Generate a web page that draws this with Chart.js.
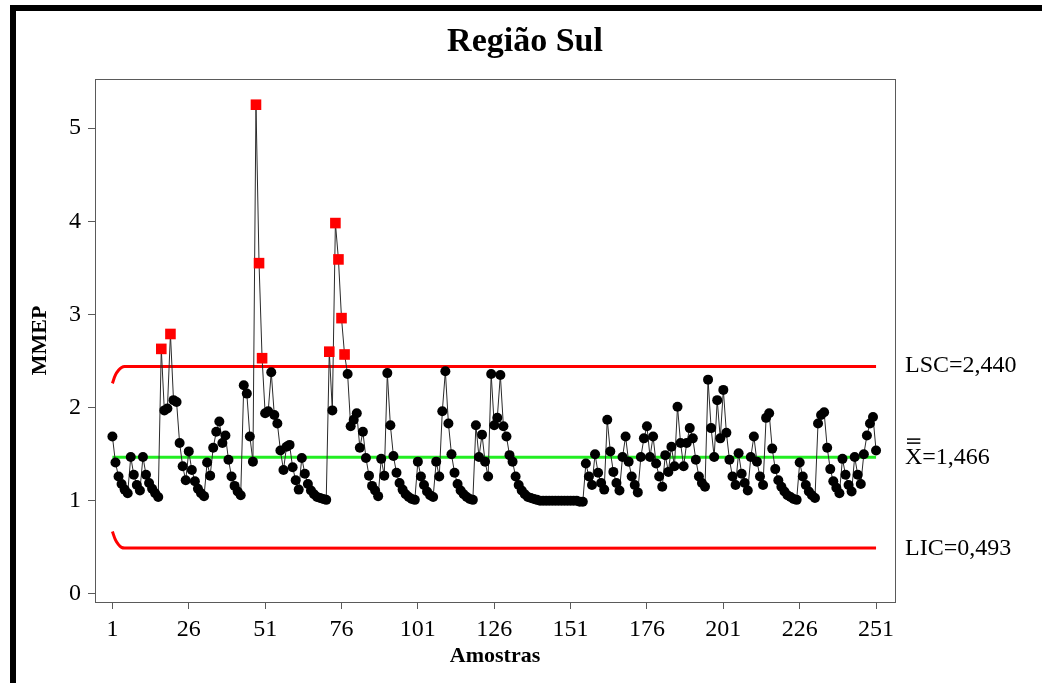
<!DOCTYPE html>
<html>
<head>
<meta charset="utf-8">
<title>Região Sul</title>
<script src="https://cdn.jsdelivr.net/npm/chart.js@4.4.1/dist/chart.umd.min.js"></script>
<style>
  body { margin: 0; background: #fff; }
  #wrap { position: relative; width: 1042px; height: 683px; overflow: hidden; }
  #chart { position: absolute; left: 0; top: 0; }
  .edge { position: absolute; background: #000; }
</style>
</head>
<body>
<div id="wrap">
  <canvas id="chart" width="1042" height="683"></canvas>
  <div class="edge" style="left:10px;top:5px;width:1032px;height:6px"></div>
  <div class="edge" style="left:10px;top:5px;width:6px;height:678px"></div>
</div>
<script>
const chartTitle = "Região Sul";
const xTitle = "Amostras";
const yTitle = "MMEP";

// MMEP value of each sample (amostra 1 .. 251)
const mmep = [
  1.69, 1.41, 1.26, 1.18, 1.12, 1.08, 1.47, 1.28, 1.17, 1.11,
  1.47, 1.28, 1.19, 1.13, 1.08, 1.04, 2.63, 1.97, 1.99, 2.79,
  2.08, 2.06, 1.62, 1.37, 1.22, 1.53, 1.33, 1.21, 1.13, 1.08,
  1.05, 1.41, 1.27, 1.57, 1.74, 1.85, 1.62, 1.70, 1.44, 1.26,
  1.16, 1.10, 1.06, 2.24, 2.15, 1.69, 1.42, 5.25, 3.55, 2.53,
  1.94, 1.96, 2.38, 1.92, 1.83, 1.54, 1.33, 1.58, 1.60, 1.36,
  1.22, 1.12, 1.46, 1.29, 1.18, 1.11, 1.07, 1.04, 1.03, 1.02,
  1.01, 2.60, 1.97, 3.98, 3.59, 2.96, 2.57, 2.36, 1.80, 1.87,
  1.94, 1.57, 1.74, 1.46, 1.27, 1.16, 1.11, 1.05, 1.45, 1.27,
  2.37, 1.81, 1.48, 1.30, 1.19, 1.12, 1.07, 1.04, 1.02, 1.01,
  1.42, 1.26, 1.17, 1.10, 1.06, 1.04, 1.42, 1.26, 1.96, 2.39,
  1.83, 1.50, 1.30, 1.18, 1.11, 1.07, 1.04, 1.02, 1.01, 1.81,
  1.47, 1.71, 1.42, 1.26, 2.36, 1.81, 1.89, 2.35, 1.80, 1.69,
  1.49, 1.42, 1.26, 1.17, 1.11, 1.07, 1.04, 1.03, 1.02, 1.01,
  1.00, 1.00, 1.00, 1.00, 1.00, 1.00, 1.00, 1.00, 1.00, 1.00,
  1.00, 1.00, 1.00, 0.99, 0.99,
  1.40, 1.26, 1.17, 1.50, 1.30, 1.19, 1.12, 1.87, 1.53, 1.31,
  1.19, 1.11, 1.47, 1.69, 1.42, 1.26, 1.17, 1.09, 1.47, 1.67,
  1.80, 1.47, 1.69, 1.40, 1.26, 1.15, 1.49, 1.31, 1.58, 1.37,
  2.01, 1.62, 1.37, 1.62, 1.78, 1.67, 1.44, 1.26, 1.19, 1.15,
  2.30, 1.78, 1.47, 2.08, 1.67, 2.19, 1.73, 1.44, 1.26, 1.17,
  1.51, 1.29, 1.19, 1.11, 1.47, 1.69, 1.42, 1.26, 1.17, 1.89,
  1.94, 1.56, 1.34, 1.22, 1.15, 1.10, 1.06, 1.04, 1.02, 1.01,
  1.41, 1.26, 1.17, 1.10, 1.06, 1.03, 1.83, 1.92, 1.95, 1.57,
  1.34, 1.21, 1.14, 1.08, 1.45, 1.28, 1.17, 1.10, 1.47, 1.28,
  1.18, 1.50, 1.70, 1.83, 1.90, 1.54
];

// control limits
const lscValue = 2.440;
const centerValue = 1.466;
const licValue = 0.493;
// the limits widen over the first samples before they settle
const lscStart = [2.26, 2.35, 2.40, 2.43];
const licStart = [0.67, 0.58, 0.53, 0.50];

const xTicks = [1, 26, 51, 76, 101, 126, 151, 176, 201, 226, 251];
const yTicks = [0, 1, 2, 3, 4, 5];

const lastSample = mmep.length;

function limitPoints(start, level) {
  const pts = start.map((v, i) => ({ x: i + 1, y: v }));
  pts.push({ x: start.length + 1, y: level });
  pts.push({ x: lastSample, y: level });
  return pts;
}

function limitAt(start, level, i) {
  return i < start.length ? start[i] : level;
}

function fmt(v) {
  return v.toFixed(3).replace(".", ",");
}

const decor = {
  id: "decor",
  afterDraw(chart) {
    const { ctx, chartArea: a } = chart;
    const y = chart.scales.y;
    ctx.save();
    ctx.strokeStyle = "#5a5a5a";
    ctx.lineWidth = 1;
    ctx.strokeRect(a.left + 0.5, a.top + 0.5, a.right - a.left, a.bottom - a.top);

    ctx.fillStyle = "#000";
    ctx.textBaseline = "middle";
    ctx.textAlign = "center";
    ctx.font = "bold 34px 'Liberation Serif'";
    ctx.fillText(chartTitle, 525, 42);

    ctx.textAlign = "left";
    ctx.font = "24px 'Liberation Serif'";
    const lx = a.right + 10;
    ctx.fillText("LSC=" + fmt(lscValue), lx, y.getPixelForValue(lscValue) - 1);
    ctx.fillText("LIC=" + fmt(licValue), lx, y.getPixelForValue(licValue) + 1);
    const cy = y.getPixelForValue(centerValue);
    ctx.fillText("X=" + fmt(centerValue), lx, cy);
    const xw = ctx.measureText("X").width;
    ctx.fillRect(lx + 2, cy - 19, xw - 4, 1.5);
    ctx.fillRect(lx + 2, cy - 15, xw - 4, 1.5);
    ctx.restore();
  }
};

function drawChart() {
  const points = mmep.map((v, i) => ({ x: i + 1, y: v }));
  const out = mmep.map((v, i) => v > limitAt(lscStart, lscValue, i) || v < limitAt(licStart, licValue, i));

  const ctx = document.getElementById("chart").getContext("2d");
  new Chart(ctx, {
    type: "line",
    data: {
      datasets: [
        {
          label: "MMEP",
          data: points,
          borderColor: "#2a2a2a",
          borderWidth: 1,
          tension: 0,
          pointStyle: out.map(o => (o ? "rect" : "circle")),
          pointRadius: out.map(o => (o ? 7.5 : 5)),
          pointBackgroundColor: out.map(o => (o ? "#ff0000" : "#000")),
          pointBorderWidth: 0,
          order: 1
        },
        {
          label: "LSC",
          data: limitPoints(lscStart, lscValue),
          borderColor: "#ff0000",
          borderWidth: 3,
          pointRadius: 0,
          tension: 0.4,
          order: 2
        },
        {
          label: "LIC",
          data: limitPoints(licStart, licValue),
          borderColor: "#ff0000",
          borderWidth: 3,
          pointRadius: 0,
          tension: 0.4,
          order: 2
        },
        {
          label: "Média",
          data: [{ x: 1, y: centerValue }, { x: lastSample, y: centerValue }],
          borderColor: "#22ee22",
          borderWidth: 3,
          pointRadius: 0,
          order: 3
        }
      ]
    },
    options: {
      responsive: false,
      animation: false,
      layout: { padding: { top: 79, right: 147, bottom: 0, left: 0 } },
      plugins: {
        legend: { display: false },
        tooltip: { enabled: false }
      },
      scales: {
        x: {
          type: "linear",
          min: -4.7,
          max: 257.2,
          afterBuildTicks: s => { s.ticks = xTicks.map(v => ({ value: v })); },
          afterFit: s => { s.height = 81; },
          grid: { drawOnChartArea: false, drawTicks: true, tickLength: 7, color: "#5a5a5a" },
          border: { display: false },
          ticks: {
            font: { family: "Liberation Serif", size: 24 },
            color: "#000",
            padding: 6,
            maxRotation: 0
          },
          title: {
            display: true,
            text: xTitle,
            font: { family: "Liberation Serif", size: 22, weight: "bold" },
            color: "#000",
            padding: { top: 0, bottom: 13 }
          }
        },
        y: {
          min: -0.086,
          max: 5.526,
          afterBuildTicks: s => { s.ticks = yTicks.map(v => ({ value: v })); },
          afterFit: s => { s.width = 95; },
          grid: { drawOnChartArea: false, drawTicks: true, tickLength: 7, color: "#5a5a5a" },
          border: { display: false },
          ticks: {
            font: { family: "Liberation Serif", size: 24 },
            color: "#000",
            padding: 7
          },
          title: {
            display: true,
            text: yTitle,
            font: { family: "Liberation Serif", size: 22, weight: "bold" },
            color: "#000",
            padding: { top: 27, bottom: 0 }
          }
        }
      }
    },
    plugins: [decor]
  });
}

window.addEventListener("DOMContentLoaded", drawChart);
</script>
</body>
</html>
